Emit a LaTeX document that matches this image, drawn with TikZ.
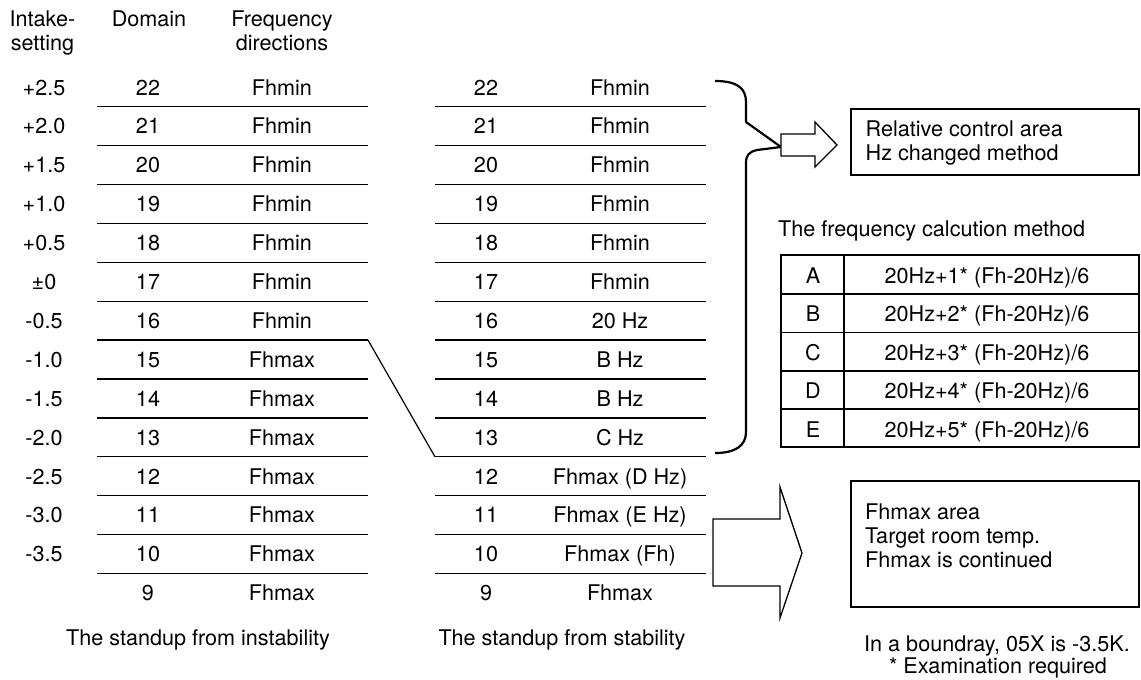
\documentclass[tikz,border=0pt]{standalone}
\usepackage{fontspec}
\setmainfont{TeX Gyre Heros}
\begin{document}
\begin{tikzpicture}[x=1pt,y=-1pt,
  every node/.style={inner sep=0pt, font=\fontsize{21.6}{24.3}\selectfont},
  txt/.style={anchor=base},
  ltxt/.style={anchor=base west},
  hdr/.style={anchor=base, align=center},
  rule/.style={line width=1.3pt},
  conn/.style={line width=1.2pt},
  brace/.style={line width=2.2pt, line join=round},
  hollow/.style={line width=1.3pt, line join=miter, fill=white},
  box/.style={draw, line width=1.5pt, anchor=north west}]
\useasboundingbox (0,0) rectangle (1141,680);

% headers (base = baseline of the last line)
\node[hdr] (h1) at (42.5,50.3) {Intake-\\setting};
\node[hdr] (h2) at (149,26) {Domain};
\node[hdr] (h3) at (282,50.3) {Frequency\\directions};

% rows
\foreach \r/\s/\d/\f/\m in {
  0/+2.5/22/Fhmin/Fhmin,
  1/+2.0/21/Fhmin/Fhmin,
  2/+1.5/20/Fhmin/Fhmin,
  3/+1.0/19/Fhmin/Fhmin,
  4/+0.5/18/Fhmin/Fhmin,
  5/±0/17/Fhmin/Fhmin,
  6/-0.5/16/Fhmin/{20 Hz},
  7/-1.0/15/Fhmax/{B Hz},
  8/-1.5/14/Fhmax/{B Hz},
  9/-2.0/13/Fhmax/{C Hz},
  10/-2.5/12/Fhmax/{Fhmax (D Hz)},
  11/-3.0/11/Fhmax/{Fhmax (E Hz)},
  12/-3.5/10/Fhmax/{Fhmax (Fh)},
  13/{}/9/Fhmax/Fhmax} {
  \node[txt] (s\r) at (44, 95+38.9*\r) {\s};
  \node[txt] (d\r) at (148, 95+38.9*\r) {\d};
  \node[txt] (f\r) at (282, 95+38.9*\r) {\f};
  \node[txt] (md\r) at (486, 95+38.9*\r) {\d};
  \node[txt] (mf\r) at (620, 95+38.9*\r) {\m};
}

% rules
\foreach \k in {0,...,12} {
  \draw[rule] (97, 106.7+38.9*\k) -- (368, 106.7+38.9*\k);
  \draw[rule] (435, 106.7+38.9*\k) -- (706, 106.7+38.9*\k);
}
\coordinate (L6e) at (368, 340.1);
\coordinate (M9s) at (435, 456.8);
\draw[conn] (L6e) -- (M9s);

% brace
\coordinate (tip) at (781,147);
\draw[brace] (715,81) .. controls (737,81) and (746,88) .. (746,102) -- (746,122) -- (tip)
  -- (757,150) .. controls (749,152) and (746,155) .. (746,163) -- (746,432)
  .. controls (746,446) and (735,453) .. (715,453);

% hollow arrow 1
\draw[hollow] (tip) |- (815,134) -- (815,122) -- (837,145) -- (815,167) -- (815,156) -| (tip);

% box 1
\node[box, minimum width=288pt, minimum height=66pt] (b1) at (850,108) {};
\node[ltxt, align=left] (b1t) at (865.5,160.3) {Relative control area\\Hz changed method};

% table
\node[ltxt] (tt) at (778,236) {The frequency calcution method};
\coordinate (T1) at (781,255);
\coordinate (T2) at (1139,447);
\draw[line width=2pt] (T1) rectangle (T2);
\foreach \yy in {294,332.5,371,409} \draw[line width=1.3pt] (781,\yy) -- (1139,\yy);
\draw[line width=1.3pt] (844,255) -- (844,447);
\foreach \i/\l/\n in {0/A/1,1/B/2,2/C/3,3/D/4,4/E/5} {
  \node[txt] (tl\i) at (813, 283.5+38.4*\i) {\l};
  \node[txt] (tf\i) at (987, 283.5+38.4*\i) {20Hz+\n* (Fh-20Hz)/6};
}

% hollow arrow 2
\draw[hollow] (713,519) -- (780,519) -- (780,487) -- (802,553) -- (780,618) -- (780,586) -- (713,586) -- cycle;

% box 2
\node[box, minimum width=288pt, minimum height=126pt] (b2) at (850,480) {};
\node[ltxt, align=left] (b2t) at (865,567.6) {Fhmax area\\Target room temp.\\Fhmax is continued};

% bottom texts
\node[txt] (c1) at (198,645) {The standup from instability};
\node[txt] (c2) at (562,645) {The standup from stability};
\node[txt] (c3) at (997,651.5) {In a boundray, 05X is -3.5K.};
\node[txt] (c4) at (998,673) {* Examination required};
\end{tikzpicture}
\end{document}
